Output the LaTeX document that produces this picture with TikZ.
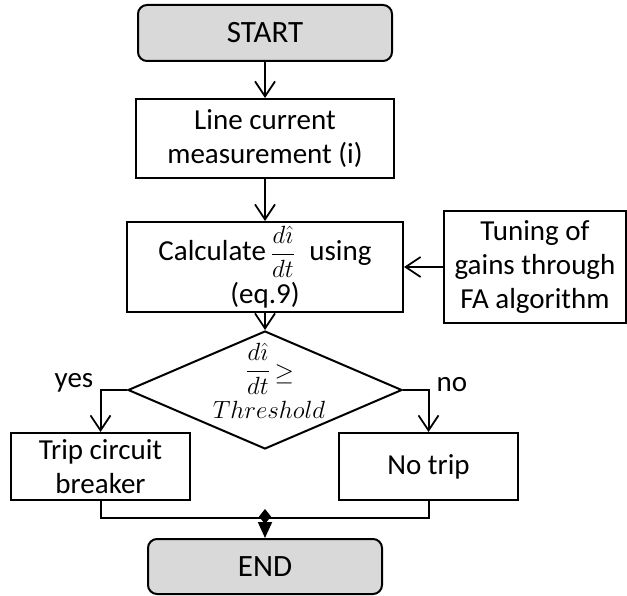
\documentclass[tikz,border=0pt]{standalone}
\usepackage{amsmath}
\usepackage{fontspec}
\setmainfont{Carlito}
\usetikzlibrary{shapes.geometric,arrows.meta}
\definecolor{boxgray}{HTML}{D9D9D9}
\newcommand{\myfrac}{{\fontsize{24}{26}\selectfont$\dfrac{d\hat{\imath}}{dt}$}}
\tikzset{
  box/.style={draw=black,line width=2pt,inner sep=0pt,align=center,font=\fontsize{29}{34}\selectfont},
  term/.style={box,rounded corners=9pt,fill=boxgray,font=\fontsize{31}{36}\selectfont},
  arr/.style={line width=2pt,-{Straight Barb[length=15pt,width=20pt,line width=1.8pt]}},
  lbl/.style={font=\fontsize{29}{34}\selectfont,inner sep=0pt},
}
\begin{document}
\begin{tikzpicture}[x=1pt,y=-1pt]
\useasboundingbox (0,0) rectangle (627,596);
\node[term,minimum width=254pt,minimum height=56pt] (start) at (265,33) {START};
\node[box,minimum width=258pt,minimum height=79pt] (meas) at (265,138.5) {Line current\\measurement (i)};
\node[box,minimum width=276pt,minimum height=90pt] (calc) at (265,267) {};
\node[lbl] (calctext) at (265,252) {Calculate\,\myfrac\; using};
\node[lbl,anchor=base] (eqtext) at (265,304) {(eq.9)};
\node[box,minimum width=182pt,minimum height=112pt] (tune) at (535,267) {Tuning of\\gains through\\FA algorithm};
\node[diamond,draw=black,line width=2pt,minimum width=274pt,minimum height=118pt,inner sep=0pt] (dec) at (265,390) {};
\node[lbl] (fractext) at (270,369) {\myfrac\,\raisebox{-3pt}{\fontsize{31}{34}\selectfont$\geq$}};
\node[lbl,anchor=base] (thrtext) at (269,418) {$Threshold$};
\node[box,minimum width=179pt,minimum height=67pt] (trip) at (100.5,466.5) {Trip circuit\\breaker};
\node[box,minimum width=179pt,minimum height=67pt] (notrip) at (428.5,466.5) {No trip};
\node[term,minimum width=234pt,minimum height=55pt] (end) at (265,566.5) {END};
\node[lbl] (yes) at (74,383) {yes};
\node[lbl] (no) at (452,385) {no};
\coordinate (merge) at (265,509);
\draw[arr] (start) -- (meas);
\draw[arr] (meas) -- (calc);
\draw[arr] (tune) -- (calc);
\draw[arr] (calc) -- (dec.north);
\draw[arr] (dec.west) -| (trip.north);
\draw[arr] (dec.east) -| (notrip.north);
\draw[line width=2pt] (trip.south) -- ++(0,17) -| (notrip.south);
\draw[line width=2pt,{Diamond[length=15pt,width=12pt]}-{Triangle[length=16pt,width=14pt]}] (merge) -- (end.north);
\end{tikzpicture}
\end{document}
